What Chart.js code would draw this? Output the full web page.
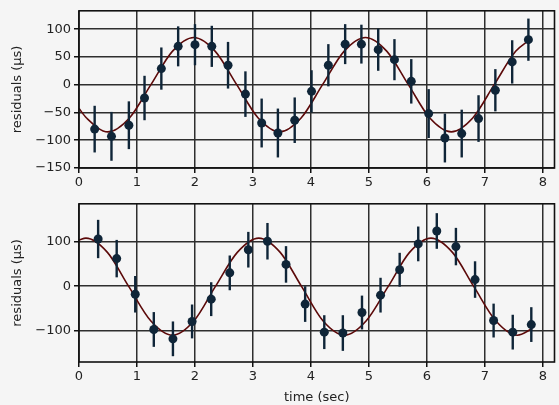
<!DOCTYPE html>
<html>
<head>
<meta charset="utf-8">
<script src="https://cdn.jsdelivr.net/npm/chart.js@4.4.1/dist/chart.umd.min.js"></script>
<style>
  body { margin: 0; background: #f5f5f5; }
  #wrap { position: relative; width: 559px; height: 405px; }
  canvas { position: absolute; left: 0; }
  #top { top: 0; }
  #bottom { top: 193px; }
</style>
</head>
<body>
<div id="wrap">
  <canvas id="top" width="559" height="193"></canvas>
  <canvas id="bottom" width="559" height="212"></canvas>
</div>
<script>
// top panel: measured residuals with error bars
const topTime = [0.27, 0.56, 0.86, 1.13, 1.42, 1.71, 2.00, 2.29, 2.57, 2.87, 3.15, 3.43, 3.72, 4.01,
                 4.30, 4.59, 4.87, 5.16, 5.44, 5.73, 6.03, 6.31, 6.60, 6.89, 7.18, 7.47, 7.75];
const topResid = [-80, -93, -73, -24, 29, 69, 72, 69, 35, -17, -69, -87, -64, -12,
                  35, 73, 73, 63, 45, 6, -52, -96, -88, -61, -10, 41, 81];
const topErr = [42, 44, 43, 40, 38, 36, 37, 37, 42, 41, 44, 44, 41, 38,
                38, 36, 35, 38, 37, 40, 44, 44, 43, 42, 38, 39, 38];
// fitted model curve
const topFitTime = [0, 0.13, 0.5, 0.87, 1.24, 1.61, 1.98, 2.35, 2.72, 3.09, 3.46, 3.83, 4.20, 4.57,
                    4.94, 5.31, 5.68, 6.05, 6.42, 6.79, 7.16, 7.53, 7.76];
const topFit = [-43, -60, -85, -60, 0, 60, 85, 60, 0, -60, -85, -60, 0, 60,
                85, 60, 0, -60, -85, -60, 0, 60, 80];
const topYTicks = [-150, -100, -50, 0, 50, 100];

// bottom panel
const botTime = [0.33, 0.65, 0.97, 1.29, 1.62, 1.95, 2.28, 2.60, 2.92, 3.25, 3.57, 3.90,
                 4.23, 4.55, 4.88, 5.20, 5.53, 5.85, 6.17, 6.50, 6.83, 7.15, 7.48, 7.80];
const botResid = [106, 62, -18, -97, -118, -79, -29, 30, 82, 101, 49, -40,
                  -103, -105, -59, -20, 37, 95, 124, 89, 15, -77, -103, -86];
const botErr = [43, 42, 41, 39, 39, 38, 38, 39, 40, 41, 41, 40,
                38, 40, 38, 39, 38, 39, 40, 42, 41, 38, 39, 39];
const botFitTime = [0, 0.12, 0.49, 0.86, 1.24, 1.61, 1.98, 2.35, 2.73, 3.10, 3.47, 3.84,
                    4.21, 4.58, 4.95, 5.33, 5.70, 6.07, 6.44, 6.81, 7.19, 7.56, 7.82];
const botFit = [104, 108, 76, -1, -78, -110, -78, -1, 76, 108, 76, -1,
                -78, -110, -78, -1, 76, 108, 76, -1, -78, -110, -95];
const botYTicks = [-100, 0, 100];

const xTicks = [0, 1, 2, 3, 4, 5, 6, 7, 8];

const pointColor = '#0f2538';
const fitColor = '#5c0a0a';
const gridColor = '#2e2e2e';
const font = { family: 'DejaVu Sans', size: 13 };

function pairs(xs, ys) {
    return xs.map((x, i) => ({ x: x, y: ys[i] }));
}

// error bars are drawn right after the fit line, below the markers
const errorBars = {
    id: 'errorBars',
    afterDatasetDraw(chart, args, opts) {
        if (args.index !== 1) return;
        const ctx = chart.ctx;
        const xs = chart.scales.x, ys = chart.scales.y;
        ctx.save();
        ctx.strokeStyle = pointColor;
        ctx.lineWidth = 2.4;
        opts.x.forEach(function(t, i) {
            const px = xs.getPixelForValue(t);
            ctx.beginPath();
            ctx.moveTo(px, ys.getPixelForValue(opts.y[i] - opts.err[i]));
            ctx.lineTo(px, ys.getPixelForValue(opts.y[i] + opts.err[i]));
            ctx.stroke();
        });
        ctx.restore();
    }
};

const frame = {
    id: 'frame',
    afterDraw(chart) {
        const a = chart.chartArea;
        const ctx = chart.ctx;
        ctx.save();
        ctx.strokeStyle = '#111';
        ctx.lineWidth = 1.6;
        ctx.strokeRect(a.left, a.top, a.right - a.left, a.bottom - a.top);
        ctx.restore();
    }
};

function makeChart(id, t, r, e, ft, f, yTicks, yMin, yMax, xAxisHeight, showTitle) {
    return new Chart(document.getElementById(id), {
        type: 'scatter',
        data: {
            datasets: [{
                data: pairs(t, r),
                pointRadius: 4.5,
                pointHoverRadius: 4.5,
                pointBackgroundColor: pointColor,
                pointBorderWidth: 0
            }, {
                data: pairs(ft, f),
                showLine: true,
                borderColor: fitColor,
                borderWidth: 1.6,
                pointRadius: 0,
                cubicInterpolationMode: 'monotone',
                fill: false
            }]
        },
        options: {
            responsive: false,
            animation: false,
            layout: { padding: { top: 7, right: 2, left: 0, bottom: 0 } },
            plugins: {
                legend: { display: false },
                tooltip: { enabled: false },
                errorBars: { x: t, y: r, err: e }
            },
            scales: {
                x: {
                    type: 'linear',
                    min: 0,
                    max: 8.2,
                    afterBuildTicks: function(scale) {
                        scale.ticks = xTicks.map(v => ({ value: v }));
                    },
                    afterFit: function(scale) { scale.height = xAxisHeight; },
                    grid: { color: gridColor, lineWidth: 1.5, tickLength: 5, tickColor: '#111' },
                    border: { display: false },
                    ticks: { color: '#222', font: font, padding: 2, maxRotation: 0 },
                    title: {
                        display: showTitle,
                        text: 'time (sec)',
                        color: '#222',
                        font: font,
                        padding: { top: 0, bottom: 0 }
                    }
                },
                y: {
                    min: yMin,
                    max: yMax,
                    afterBuildTicks: function(scale) {
                        scale.ticks = yTicks.map(v => ({ value: v }));
                    },
                    afterFit: function(scale) { scale.width = 79; },
                    grid: { color: gridColor, lineWidth: 1.5, tickLength: 5, tickColor: '#111' },
                    border: { display: false },
                    ticks: {
                        color: '#222',
                        font: font,
                        padding: 3,
                        callback: function(v) { return String(v).replace('-', '\u2212'); }
                    },
                    title: {
                        display: true,
                        text: 'residuals (\u03bcs)',
                        color: '#222',
                        font: font,
                        padding: { top: 10, bottom: 0 }
                    }
                }
            }
        },
        plugins: [errorBars, frame]
    });
}

makeChart('top', topTime, topResid, topErr, topFitTime, topFit, topYTicks, -150, 133, 25, false);
makeChart('bottom', botTime, botResid, botErr, botFitTime, botFit, botYTicks, -170, 185, 43, true);
</script>
</body>
</html>
